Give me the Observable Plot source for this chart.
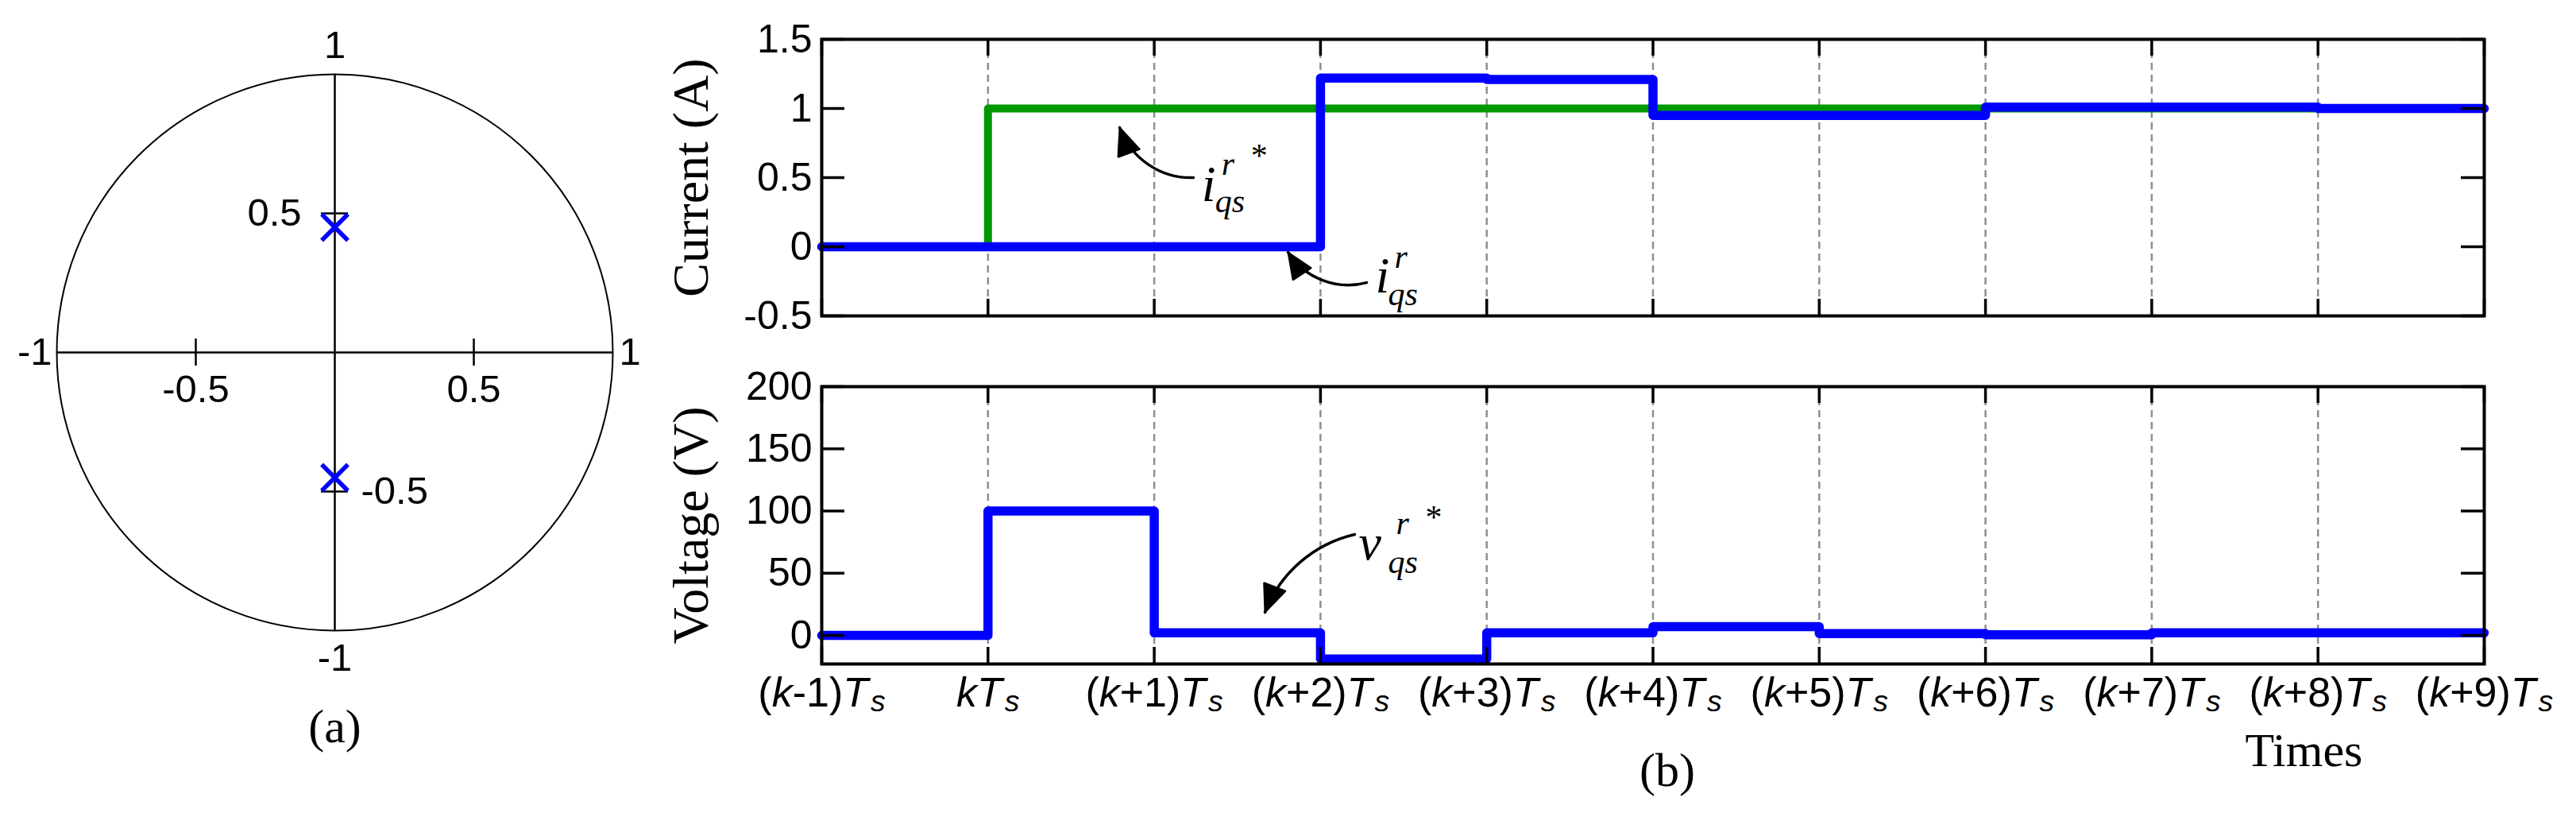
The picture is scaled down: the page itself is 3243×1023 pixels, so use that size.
<!DOCTYPE html>
<html>
<head>
<meta charset="utf-8">
<script src="https://cdn.jsdelivr.net/npm/d3@7"></script>
<script src="https://cdn.jsdelivr.net/npm/@observablehq/plot@0.6"></script>
<style>
  html, body { margin: 0; padding: 0; background: #fff; }
  #fig { position: relative; width: 3243px; height: 1023px; overflow: hidden; background: #fff; }
  #fig > svg { position: absolute; background: transparent !important; }
</style>
</head>
<body>
<div id="fig"></div>
<script>
// ---------------- data ----------------
// (a) z-plane: pole locations
const poleRe = [0, 0];
const poleIm = [0.45, -0.45];
const zAxisTicks = [-0.5, 0.5];

// (b) sampling instants (k-1)Ts ... (k+9)Ts
const steps = [0, 1, 2, 3, 4, 5, 6, 7, 8, 9, 10];
const stepLabels = ["(k-1)T_s", "kT_s", "(k+1)T_s", "(k+2)T_s", "(k+3)T_s", "(k+4)T_s",
                    "(k+5)T_s", "(k+6)T_s", "(k+7)T_s", "(k+8)T_s", "(k+9)T_s"];
// values held over each sampling interval
const iqsRef  = [0, 1, 1, 1, 1, 1, 1, 1, 1, 1];
const iqsMeas = [0, 0, 0, 1.22, 1.21, 0.95, 0.95, 1.01, 1.01, 1.0];
const vqsRef  = [0, 100, 2, -19, 2, 7, 1.5, 0.5, 2, 2];
const currentTicks = [-0.5, 0, 0.5, 1, 1.5];
const voltageTicks = [0, 50, 100, 150, 200];

// annotation anchors (data units)
const iRefArrow  = [2.236, 0.5, 1.792, 0.862];
const iMeasArrow = [3.278, -0.259, 2.805, -0.04];
const vRefArrow  = [3.206, 81.2, 2.666, 18.5];
const iRefLabelAt  = [2.285, 0.33];
const iMeasLabelAt = [3.33, -0.328];
const vRefLabelAt  = [3.23, 61.3];

// ---------------- layout ----------------
const SANS = "'Liberation Sans', Arial, Helvetica, sans-serif";
const SERIF = "'Liberation Serif', 'Times New Roman', serif";
const W = 3243;
const FL = 1034, FR = 3127;           // frame left/right of panel (b)
const FW = FR - FL;
const BLUE = "#0000ff", GREEN = "#009900";
const fig = document.getElementById("fig");

function stepPoints(vals) {
  return steps.map((s, i) => ({x: s, y: vals[Math.min(i, vals.length - 1)]}));
}

function mathLabel(at, main, o) {
  const common = {x: () => at[0], y: () => at[1], fontFamily: SERIF, fontStyle: "italic",
                  textAnchor: "start", lineAnchor: "bottom", fill: "black"};
  const marks = [
    Plot.text([main], {...common, text: d => d, fontSize: 64}),
    Plot.text(["qs"], {...common, text: d => d, fontSize: 42, dx: o.subDx, dy: o.subDy}),
    Plot.text(["r"], {...common, text: d => d, fontSize: 42, dx: o.supDx, dy: o.supDy})
  ];
  if (o.starDx != null) marks.push(Plot.text(["*"], {...common, fontStyle: "normal", text: d => d, fontSize: 42, dx: o.starDx, dy: o.starDy}));
  return marks;
}

function frameTicks(yTicks, FH) {
  return [
    Plot.tickY(yTicks, {y: d => d, insetRight: FW - 29, stroke: "black", strokeWidth: 3.5}),
    Plot.tickY(yTicks, {y: d => d, insetLeft: FW - 29, stroke: "black", strokeWidth: 3.5}),
    Plot.tickX(steps, {x: d => d, insetBottom: FH - 21, stroke: "black", strokeWidth: 3.5}),
    Plot.tickX(steps, {x: d => d, insetTop: FH - 21, stroke: "black", strokeWidth: 3.5})
  ];
}

// turn the open arrow heads drawn by Plot.arrow into filled ones
function fillArrowHeads(svg) {
  d3.select(svg).selectAll('g[aria-label="arrow"] path').each(function () {
    const d = this.getAttribute("d");
    const idx = d.indexOf("M", 1);
    if (idx < 0) return;
    d3.select(this.parentNode).append("path")
      .attr("d", d.slice(idx) + "Z")
      .attr("fill", "black").attr("stroke", "black").attr("stroke-width", 2)
      .attr("stroke-linejoin", "miter");
    this.setAttribute("d", d.slice(0, idx));
  });
}

// ---------------- (a) z-plane ----------------
const aW = 840, aH = 1023, aML = 71, aMR = 69, aMT = 93, aMB = 230;
const unitR = (aW - aML - aMR) / 2;
const tickHalf = 17 / unitR;
const panelA = Plot.plot({
  width: aW, height: aH, marginLeft: aML, marginRight: aMR, marginTop: aMT, marginBottom: aMB,
  x: {domain: [-1, 1], axis: null},
  y: {domain: [-1, 1], axis: null},
  style: {fontFamily: SANS, background: "transparent", overflow: "visible"},
  marks: [
    Plot.dot([0], {x: 0, y: 0, r: unitR, stroke: "black", strokeWidth: 2, fill: "none"}),
    Plot.ruleY([0], {x1: -1, x2: 1, stroke: "black", strokeWidth: 2.5}),
    Plot.ruleX([0], {y1: -1, y2: 1, stroke: "black", strokeWidth: 2.5}),
    Plot.ruleX(zAxisTicks, {x: d => d, y1: -tickHalf, y2: tickHalf, stroke: "black", strokeWidth: 2.5}),
    Plot.ruleY(zAxisTicks, {y: d => d, x1: -tickHalf, x2: tickHalf, stroke: "black", strokeWidth: 2.5}),
    Plot.dot(poleIm, {x: poleRe, y: poleIm, symbol: "times", r: 15, stroke: BLUE, strokeWidth: 5.5}),
    Plot.text(["1"], {x: 0, y: 1, text: d => d, dy: -36, fontSize: 49, lineAnchor: "middle"}),
    Plot.text(["-1"], {x: 0, y: -1, text: d => d, dy: 35, fontSize: 49, lineAnchor: "middle"}),
    Plot.text(["-1"], {x: -1, y: 0, text: d => d, dx: -6, fontSize: 49, textAnchor: "end", lineAnchor: "middle"}),
    Plot.text(["1"], {x: 1, y: 0, text: d => d, dx: 8, fontSize: 49, textAnchor: "start", lineAnchor: "middle"}),
    Plot.text(zAxisTicks, {x: d => d, y: 0, text: d => String(d), dy: 47, fontSize: 49, lineAnchor: "middle"}),
    Plot.text([0.5], {x: 0, y: d => d, text: d => String(d), dx: -42, fontSize: 49, textAnchor: "end", lineAnchor: "middle"}),
    Plot.text([-0.5], {x: 0, y: d => d, text: d => String(d), dx: 33, fontSize: 49, textAnchor: "start", lineAnchor: "middle"}),
    Plot.text(["(a)"], {frameAnchor: "bottom", text: d => d, textAnchor: "middle", dy: 140, fontSize: 60, fontFamily: SERIF, lineAnchor: "bottom"})
  ]
});
panelA.style.left = "0px"; panelA.style.top = "0px";

// ---------------- (b) current ----------------
const cH = 440, cMT = 49, cMB = cH - 397;
const cFH = cH - cMT - cMB;
const current = Plot.plot({
  width: W, height: cH, marginLeft: FL, marginRight: W - FR, marginTop: cMT, marginBottom: cMB,
  x: {domain: [0, 10], axis: null},
  y: {domain: [-0.5, 1.5], axis: null},
  style: {fontFamily: SANS, background: "transparent", overflow: "visible"},
  marks: [
    Plot.ruleX(steps.slice(1, -1), {x: d => d, stroke: "#8f8f8f", strokeWidth: 2.5, strokeDasharray: "9,6"}),
    Plot.line(stepPoints(iqsRef), {x: "x", y: "y", curve: "step-after", stroke: GREEN, strokeWidth: 10}),
    Plot.line(stepPoints(iqsMeas), {x: "x", y: "y", curve: "step-after", stroke: BLUE, strokeWidth: 11.5}),
    ...frameTicks(currentTicks, cFH),
    Plot.frame({stroke: "black", strokeWidth: 4}),
    Plot.axisY(currentTicks, {anchor: "left", tickSize: 0, tickPadding: 12, fontSize: 50, tickFormat: d => String(d), label: null}),
    Plot.text(["Current (A)"], {frameAnchor: "left", text: d => d, rotate: -90, dx: -164, fontSize: 64, fontFamily: SERIF, textAnchor: "middle", lineAnchor: "middle"}),
    Plot.arrow([0], {x1: iRefArrow[0], y1: iRefArrow[1], x2: iRefArrow[2], y2: iRefArrow[3], bend: 36, stroke: "black", strokeWidth: 3.5, headLength: 16, headAngle: 46}),
    Plot.arrow([0], {x1: iMeasArrow[0], y1: iMeasArrow[1], x2: iMeasArrow[2], y2: iMeasArrow[3], bend: 36, stroke: "black", strokeWidth: 3.5, headLength: 16, headAngle: 46}),
    ...mathLabel(iRefLabelAt, "i", {subDx: 17, subDy: 14, supDx: 25, supDy: -33, starDx: 62, starDy: -43}),
    ...mathLabel(iMeasLabelAt, "i", {subDx: 16, subDy: 16, supDx: 24, supDy: -31})
  ]
});
current.style.left = "0px"; current.style.top = "0px";

// ---------------- (b) voltage ----------------
const vTop = 440, vH = 1023 - vTop, vMT = 486 - vTop, vMB = vH - (835 - vTop);
const vFH = vH - vMT - vMB;
const voltage = Plot.plot({
  width: W, height: vH, marginLeft: FL, marginRight: W - FR, marginTop: vMT, marginBottom: vMB,
  x: {domain: [0, 10], axis: null},
  y: {domain: [-23, 200], axis: null},
  style: {fontFamily: SANS, background: "transparent", overflow: "visible"},
  marks: [
    Plot.ruleX(steps.slice(1, -1), {x: d => d, stroke: "#8f8f8f", strokeWidth: 2.5, strokeDasharray: "9,6"}),
    Plot.line(stepPoints(vqsRef), {x: "x", y: "y", curve: "step-after", stroke: BLUE, strokeWidth: 11.5}),
    ...frameTicks(voltageTicks, vFH),
    Plot.frame({stroke: "black", strokeWidth: 4}),
    Plot.axisY(voltageTicks, {anchor: "left", tickSize: 0, tickPadding: 12, fontSize: 50, tickFormat: d => String(d), label: null}),
    Plot.axisX(steps, {anchor: "bottom", tickSize: 0, tickPadding: 17, fontSize: 52, tickFormat: i => stepLabels[i], label: null}),
    Plot.text(["Voltage (V)"], {frameAnchor: "left", text: d => d, rotate: -90, dx: -164, fontSize: 64, fontFamily: SERIF, textAnchor: "middle", lineAnchor: "middle"}),
    Plot.arrow([0], {x1: vRefArrow[0], y1: vRefArrow[1], x2: vRefArrow[2], y2: vRefArrow[3], bend: -28, stroke: "black", strokeWidth: 3.5, headLength: 16, headAngle: 46}),
    ...mathLabel(vRefLabelAt, "v", {subDx: 37, subDy: 17, supDx: 47, supDy: -32, starDx: 84, starDy: -39}),
    Plot.text(["Times"], {frameAnchor: "bottom-right", text: d => d, textAnchor: "middle", dx: -227, dy: 128, fontSize: 60, fontFamily: SERIF, lineAnchor: "bottom"}),
    Plot.text(["(b)"], {frameAnchor: "bottom", text: d => d, textAnchor: "middle", dx: 18, dy: 153, fontSize: 60, fontFamily: SERIF, lineAnchor: "bottom"})
  ]
});
voltage.style.left = "0px"; voltage.style.top = vTop + "px";

// italic k, T and subscript s in the time tick labels
d3.select(voltage).selectAll('g[aria-label="x-axis tick label"] text').each(function () {
  const t = d3.select(this);
  const s = t.text();
  t.text("");
  const re = /(_s)|([kT])|([^kT_]+)/g;
  let m;
  while ((m = re.exec(s))) {
    if (m[1]) t.append("tspan").attr("font-style", "italic").attr("font-size", "0.72em").attr("dx", "0.08em").attr("dy", "0.16em").text("s");
    else if (m[2]) t.append("tspan").attr("font-style", "italic").text(m[2]);
    else t.append("tspan").text(m[3]);
  }
});

fillArrowHeads(current);
fillArrowHeads(voltage);

fig.appendChild(current);
fig.appendChild(voltage);
fig.appendChild(panelA);
</script>
</body>
</html>
